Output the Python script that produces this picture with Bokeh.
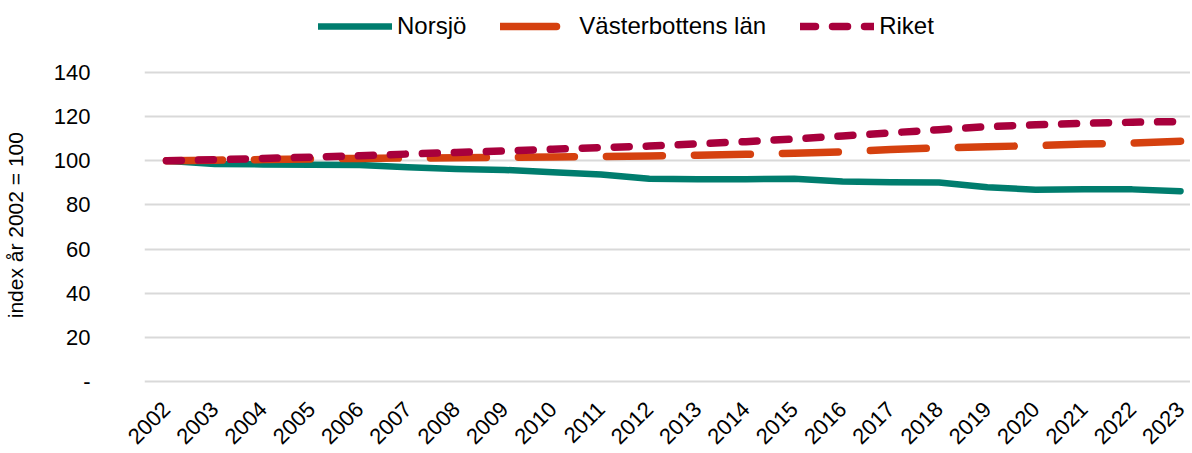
import math
from bokeh.plotting import figure
from bokeh.models import Range1d, Legend, LegendItem, FixedTicker
from bokeh.embed import file_html
from bokeh.resources import INLINE

years = list(range(2002, 2024))
year_labels = [str(y) for y in years]
norsjo = [100, 98.5, 98.3, 98.2, 98.0, 97.0, 96.2, 95.8, 94.8, 93.7, 91.8,
          91.6, 91.6, 91.8, 90.6, 90.2, 90.1, 88.0, 86.8, 87.1, 87.0, 86.2]
vasterbotten = [100, 100.2, 100.5, 100.8, 101.0, 101.2, 101.3, 101.5, 101.7, 101.9, 102.1,
                102.5, 102.9, 103.4, 104.0, 105.0, 105.8, 106.3, 106.8, 107.5, 108.0, 108.8]
riket = [100, 100.4, 101.0, 101.6, 102.2, 103.0, 103.7, 104.4, 105.2, 105.9, 106.6,
         107.6, 108.6, 109.8, 111.2, 112.6, 114.0, 115.4, 116.2, 116.9, 117.4, 117.7]
y_ticks = [0, 20, 40, 60, 80, 100, 120, 140]
y_tick_labels = ["-", "20", "40", "60", "80", "100", "120", "140"]
y_title = "index år 2002 = 100"

FONT = "Liberation Sans"

p = figure(width=1190, height=453, output_backend="svg", toolbar_location=None,
           x_range=Range1d(2001.546, 2023.206), y_range=Range1d(-2.24, 170.24),
           min_border_left=141, min_border_right=0, min_border_top=5, min_border_bottom=63)
p.outline_line_color = None
p.background_fill_color = "white"
p.border_fill_color = "white"

xa = p.xaxis[0]
xa.ticker = FixedTicker(ticks=years)
xa.major_label_overrides = {y: l for y, l in zip(years, year_labels)}
xa.major_label_orientation = math.pi / 4
xa.axis_line_color = None
xa.major_tick_line_color = None
xa.minor_tick_line_color = None
xa.major_label_text_font = FONT
xa.major_label_text_font_size = "22px"
xa.major_label_text_color = "black"
xa.major_label_standoff = 13

ya = p.yaxis[0]
ya.ticker = FixedTicker(ticks=y_ticks)
ya.major_label_overrides = {t: l for t, l in zip(y_ticks, y_tick_labels)}
ya.axis_line_color = None
ya.major_tick_line_color = None
ya.minor_tick_line_color = None
ya.major_label_text_font = FONT
ya.major_label_text_font_size = "22px"
ya.major_label_text_color = "black"
ya.major_label_standoff = 48
# trailing non-breaking spaces shift the centred title down to the plot-area centre
ya.axis_label = y_title + "\u00a0" * 10
ya.axis_label_text_font = FONT
ya.axis_label_text_font_size = "21px"
ya.axis_label_text_font_style = "normal"
ya.axis_label_text_color = "black"
ya.axis_label_standoff = 24

p.xgrid.visible = False
p.ygrid.grid_line_color = "#d9d9d9"
p.ygrid.grid_line_width = 2
p.ygrid.ticker = FixedTicker(ticks=y_ticks)

r1 = p.line(years, norsjo, line_color="#007D6E", line_width=6.5, line_cap="round", line_join="round")
r2 = p.line(years, vasterbotten, line_color="#D5410F", line_width=7.5, line_cap="round",
            line_join="round", line_dash="56 32")
r3 = p.line(years, riket, line_color="#A8003C", line_width=7.5, line_cap="round",
            line_join="round", line_dash="15 17")

legend = Legend(items=[LegendItem(label="Norsjö", renderers=[r1]),
                       LegendItem(label="Västerbottens län", renderers=[r2]),
                       LegendItem(label="Riket", renderers=[r3])],
                location=(174, 346), orientation="horizontal")
legend.label_text_font = FONT
legend.label_text_font_size = "24px"
legend.label_text_color = "black"
legend.glyph_width = 74
legend.glyph_height = 24
legend.label_height = 24
legend.spacing = 34
legend.border_line_color = None
legend.background_fill_alpha = 0
legend.margin = 0
legend.padding = 0
legend.label_standoff = 5
p.add_layout(legend, "center")

open("out.html", "w").write(file_html(p, INLINE))
